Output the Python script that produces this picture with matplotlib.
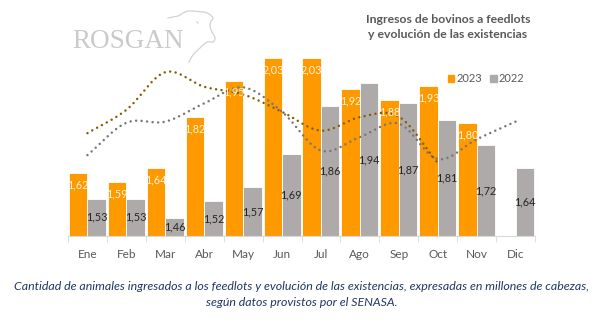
import numpy as np
import matplotlib
matplotlib.use("Agg")
import matplotlib.pyplot as plt
from matplotlib.patches import Patch
from matplotlib.lines import Line2D

# ---- data ----
months = ["Ene", "Feb", "Mar", "Abr", "May", "Jun", "Jul", "Ago", "Sep", "Oct", "Nov", "Dic"]
ingresos_2023 = [1.62, 1.59, 1.64, 1.82, 1.95, 2.03, 2.03, 1.92, 1.88, 1.93, 1.80]
ingresos_2022 = [1.53, 1.53, 1.46, 1.52, 1.57, 1.69, 1.86, 1.94, 1.87, 1.81, 1.72, 1.64]
# evolución de existencias (curvas punteadas, escala relativa)
existencias_2023 = [1.763, 1.846, 1.980, 1.928, 1.901, 1.839, 1.772, 1.820, 1.822, 1.657]
existencias_2022 = [1.685, 1.800, 1.804, 1.869, 1.926, 1.839, 1.701, 1.749, 1.797, 1.671, 1.741, 1.804]

ORANGE = "#FF9900"
GRAY = "#AEAAAA"
BROWN = "#7F6000"
LGRAY = "#767676"
TXT = "#595959"

plt.rcParams['font.family'] = ['Lato', 'DejaVu Sans']

fig = plt.figure(figsize=(6.04, 3.23), dpi=100)
ax = fig.add_axes([68/604, 1-236/323, (535-68)/604, (236-45)/323])
ymin, ymax = 1.397, 1.397 + 191/281
ax.set_xlim(-0.5, 11.5)
ax.set_ylim(ymin, ymax)

w = 0.475
x23 = np.arange(len(ingresos_2023))
x22 = np.arange(len(ingresos_2022))
ax.bar(x23 - w/2, np.array(ingresos_2023) - ymin, w, bottom=ymin, color=ORANGE,
       edgecolor="white", linewidth=0.6, zorder=2)
ax.bar(x22 + w/2, np.array(ingresos_2022) - ymin, w, bottom=ymin, color=GRAY,
       edgecolor="white", linewidth=0.6, zorder=2)

for xi, v in zip(x23, ingresos_2023):
    ax.annotate(f"{v:.2f}".replace(".", ","), (xi - w/2, v), xytext=(0, -8.5),
                textcoords="offset points", ha="center", va="center",
                fontsize=7.8, color="#FFF3DD", zorder=5)
for xi, v in zip(x22, ingresos_2022):
    ax.text(xi + w/2, (v + ymin)/2, f"{v:.2f}".replace(".", ","), ha="center",
            va="center", fontsize=7.8, color="#262626", zorder=5)

def catmull(xs, ys, n=40):
    xs = np.asarray(xs, float); ys = np.asarray(ys, float)
    P = np.column_stack([xs, ys])
    P = np.vstack([P[0] - (P[1] - P[0]), P, P[-1] + (P[-1] - P[-2])])
    out = []
    for i in range(1, len(P) - 2):
        p0, p1, p2, p3 = P[i-1], P[i], P[i+1], P[i+2]
        c1 = p1 + (p2 - p0) / 6
        c2 = p2 - (p3 - p1) / 6
        t = np.linspace(0, 1, n, endpoint=(i == len(P) - 3))[:, None]
        out.append((1-t)**3*p1 + 3*(1-t)**2*t*c1 + 3*(1-t)*t**2*c2 + t**3*p2)
    out = np.vstack(out)
    return out[:, 0], out[:, 1]

dot = (0, (0.01, 2.2))
sx, sy = catmull(np.arange(len(existencias_2022)), existencias_2022)
ax.plot(sx, sy, color=LGRAY, lw=1.8, linestyle=dot, dash_capstyle="round", zorder=4)
sx, sy = catmull(np.arange(len(existencias_2023)), existencias_2023)
ax.plot(sx, sy, color=BROWN, lw=1.8, linestyle=dot, dash_capstyle="round", zorder=4)

for s in ["top", "right", "left"]:
    ax.spines[s].set_visible(False)
ax.spines["bottom"].set_color("#D9D9D9")
ax.set_yticks([])
ax.set_xticks(np.arange(12))
ax.set_xticklabels(months, fontsize=8.5, color=TXT)
ax.tick_params(axis="x", which="major", length=0, pad=9)
ax.set_xticks(np.arange(-0.5, 12, 1), minor=True)
ax.tick_params(axis="x", which="minor", length=4, color="#D9D9D9")

fig.text(448/604, 1-27/323, "Ingresos de bovinos a feedlots\ny evolución de las existencias",
         ha="center", va="center", fontsize=8.8, fontweight="bold", color=TXT,
         linespacing=1.4)

handles = [Patch(color=ORANGE, label="2023"), Patch(color=GRAY, label="2022")]
fig.legend(handles=handles, loc="center", bbox_to_anchor=(486/604, 1-79/323), ncol=2,
           frameon=False, fontsize=8, handlelength=0.6, handleheight=0.6,
           handletextpad=0.2, columnspacing=0.7, labelcolor=TXT)

# logo
fig.text(128/604, 1-41/323, "ROSGAN", ha="center", va="center", fontsize=19.5,
         family="Liberation Serif", color="#CACACA")
head = np.array([(168, 18), (178, 16), (183, 13), (189, 11), (203, 12), (209, 14),
                 (213, 18), (211, 21), (210, 26), (212, 32), (215, 38), (213, 42),
                 (207, 42), (200, 48), (193, 55), (189, 62)], float)
hx, hy = catmull(head[:, 0], head[:, 1], n=12)
fig.add_artist(Line2D(hx/604, 1-hy/323, transform=fig.transFigure, color="#D2D2D2", lw=0.9))
fig.add_artist(Line2D([197/604, 198/604], [1-22/323, 1-23/323], transform=fig.transFigure,
                      color="#D2D2D2", lw=0.9))

fig.text(0.5, 1-286/323,
         "Cantidad de animales ingresados a los feedlots y evolución de las existencias, expresadas en millones de cabezas,",
         ha="center", va="center", fontsize=8.9, style="italic", color="#1F3864")
fig.text(0.5, 1-303/323, "según datos provistos por el SENASA.",
         ha="center", va="center", fontsize=8.9, style="italic", color="#1F3864")

fig.savefig("out.png", dpi=100)
